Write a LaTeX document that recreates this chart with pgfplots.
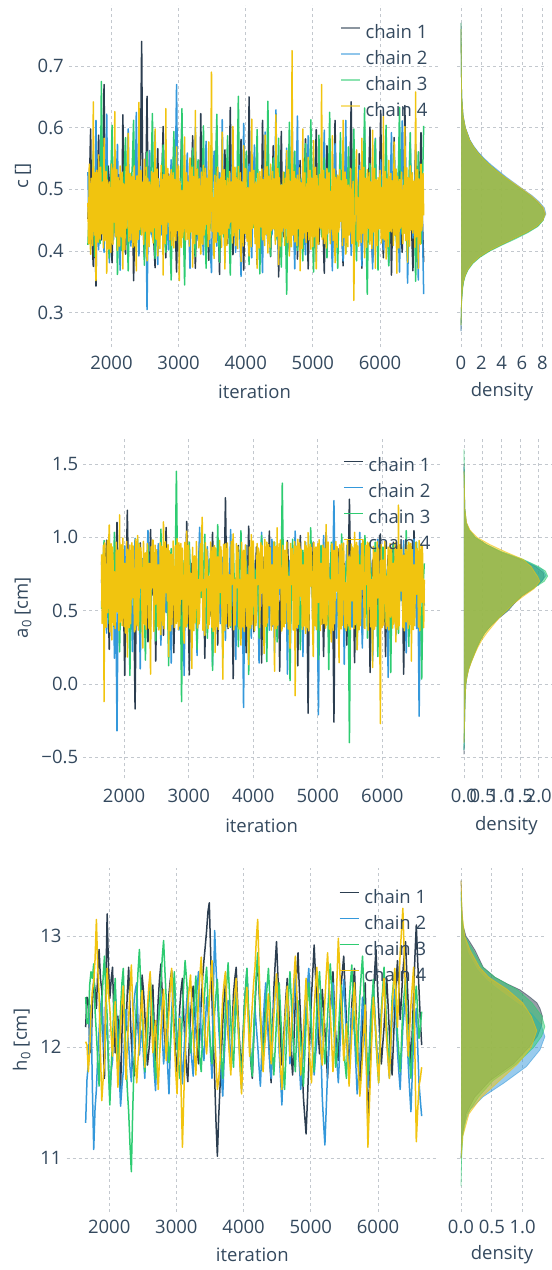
\documentclass[border=0pt]{standalone}
\usepackage{pgfplots}
\pgfplotsset{compat=1.18}
\usepackage{pgfplotstable}
\usepackage{fontspec}
\setmainfont{Open Sans}

\definecolor{chainA}{HTML}{2C3E50}
\definecolor{chainB}{HTML}{3498DB}
\definecolor{chainC}{HTML}{2ECC71}
\definecolor{chainD}{HTML}{F1C40F}
\definecolor{txt}{HTML}{34495E}
\definecolor{gridc}{HTML}{C3C8CE}

\newcommand{\lbl}{\fontsize{18.5bp}{22bp}\selectfont}

% ---------- trace of c, chains 1-3 ----------
\pgfplotstableread{
it c1 c2 c3
1650 0.452 0.528 0.410
1670 0.497 0.412 0.468
1690 0.598 0.431 0.502
1710 0.421 0.512 0.438
1730 0.375 0.486 0.562
1750 0.468 0.402 0.391
1770 0.343 0.612 0.398
1790 0.512 0.458 0.527
1810 0.588 0.402 0.471
1830 0.446 0.531 0.412
1850 0.418 0.545 0.675
1870 0.502 0.447 0.486
1890 0.670 0.398 0.421
1910 0.431 0.489 0.503
1930 0.447 0.622 0.538
1950 0.538 0.426 0.442
1970 0.512 0.381 0.389
1990 0.426 0.541 0.515
2010 0.381 0.497 0.604
2030 0.487 0.418 0.428
2050 0.556 0.446 0.447
2070 0.447 0.509 0.472
2090 0.401 0.573 0.362
2110 0.524 0.436 0.493
2130 0.478 0.369 0.515
2150 0.412 0.487 0.401
2170 0.621 0.520 0.433
2190 0.468 0.402 0.528
2210 0.395 0.439 0.584
2230 0.489 0.523 0.446
2250 0.532 0.598 0.368
2270 0.423 0.452 0.481
2290 0.436 0.408 0.492
2310 0.509 0.492 0.537
2330 0.352 0.481 0.612
2350 0.456 0.417 0.452
2370 0.574 0.625 0.399
2390 0.437 0.478 0.489
2410 0.462 0.392 0.541
2430 0.518 0.537 0.427
2450 0.740 0.512 0.451
2470 0.452 0.441 0.506
2490 0.391 0.453 0.377
2510 0.495 0.519 0.463
2530 0.651 0.305 0.561
2550 0.441 0.472 0.418
2570 0.428 0.563 0.428
2590 0.532 0.438 0.521
2610 0.503 0.421 0.623
2630 0.418 0.506 0.447
2650 0.373 0.594 0.388
2670 0.489 0.453 0.495
2690 0.566 0.378 0.502
2710 0.427 0.487 0.412
2730 0.449 0.518 0.437
2750 0.512 0.426 0.532
2770 0.602 0.462 0.572
2790 0.458 0.509 0.446
2810 0.389 0.581 0.398
2830 0.496 0.441 0.487
2850 0.525 0.402 0.481
2870 0.438 0.496 0.423
2890 0.414 0.548 0.353
2910 0.507 0.462 0.508
2930 0.557 0.433 0.594
2950 0.443 0.513 0.436
2970 0.366 0.670 0.462
2990 0.472 0.448 0.519
3010 0.483 0.391 0.411
3030 0.521 0.487 0.472
3050 0.612 0.507 0.631
3070 0.436 0.425 0.448
3090 0.405 0.438 0.345
3110 0.492 0.512 0.496
3130 0.538 0.559 0.512
3150 0.428 0.441 0.421
3170 0.441 0.372 0.428
3190 0.515 0.503 0.512
3210 0.587 0.486 0.567
3230 0.447 0.422 0.438
3250 0.372 0.601 0.391
3270 0.483 0.458 0.503
3290 0.496 0.417 0.548
3310 0.421 0.498 0.452
3330 0.623 0.535 0.436
3350 0.467 0.436 0.491
3370 0.432 0.394 0.603
3390 0.509 0.517 0.447
3410 0.548 0.578 0.372
3430 0.437 0.463 0.482
3450 0.385 0.452 0.495
3470 0.478 0.406 0.437
3490 0.511 0.365 0.568
3510 0.426 0.512 0.476
3530 0.447 0.562 0.409
3550 0.523 0.447 0.528
3570 0.598 0.408 0.622
3590 0.453 0.493 0.441
3610 0.362 0.527 0.382
3630 0.488 0.432 0.497
3650 0.479 0.613 0.513
3670 0.512 0.469 0.423
3690 0.564 0.381 0.452
3710 0.441 0.508 0.508
3730 0.412 0.495 0.587
3750 0.497 0.428 0.446
3770 0.633 0.442 0.361
3790 0.456 0.523 0.482
3810 0.394 0.574 0.539
3830 0.478 0.446 0.437
3850 0.527 0.398 0.425
3870 0.432 0.482 0.512
3890 0.446 0.528 0.651
3910 0.508 0.437 0.456
3930 0.581 0.359 0.397
3950 0.447 0.487 0.472
3970 0.369 0.607 0.484
3990 0.482 0.452 0.521
4010 0.502 0.423 0.562
4030 0.437 0.496 0.448
4050 0.650 0.541 0.378
4070 0.468 0.447 0.467
4090 0.421 0.389 0.526
4110 0.503 0.498 0.438
4130 0.553 0.572 0.441
4150 0.446 0.421 0.506
4170 0.378 0.447 0.597
4190 0.497 0.487 0.452
4210 0.487 0.521 0.363
4230 0.428 0.443 0.489
4250 0.612 0.365 0.512
4270 0.472 0.512 0.437
4290 0.435 0.593 0.429
4310 0.509 0.438 0.497
4330 0.539 0.412 0.643
4350 0.447 0.492 0.452
4370 0.391 0.536 0.392
4390 0.488 0.426 0.508
4410 0.571 0.452 0.551
4430 0.436 0.502 0.446
4450 0.446 0.629 0.418
4470 0.512 0.448 0.487
4490 0.358 0.387 0.583
4510 0.472 0.497 0.438
4530 0.594 0.508 0.374
4550 0.438 0.453 0.502
4570 0.423 0.431 0.528
4590 0.506 0.512 0.452
4610 0.532 0.567 0.330
4630 0.452 0.438 0.487
4650 0.399 0.402 0.609
4670 0.487 0.496 0.462
4690 0.618 0.545 0.437
4710 0.438 0.452 0.508
4730 0.468 0.371 0.562
4750 0.513 0.498 0.441
4770 0.387 0.619 0.401
4790 0.476 0.446 0.489
4810 0.547 0.448 0.517
4830 0.442 0.508 0.436
4850 0.426 0.523 0.384
4870 0.502 0.437 0.497
4890 0.582 0.394 0.574
4910 0.457 0.488 0.447
4930 0.371 0.587 0.443
4950 0.479 0.446 0.512
4970 0.505 0.436 0.613
4990 0.437 0.503 0.453
5010 0.438 0.552 0.366
5030 0.512 0.448 0.483
5050 0.597 0.383 0.497
5070 0.452 0.493 0.428
5090 0.411 0.511 0.588
5110 0.486 0.437 0.462
5130 0.529 0.443 0.423
5150 0.437 0.512 0.502
5170 0.364 0.596 0.551
5190 0.492 0.452 0.437
5210 0.571 0.407 0.389
5230 0.446 0.487 0.493
5250 0.452 0.532 0.625
5270 0.503 0.441 0.448
5290 0.389 0.368 0.438
5310 0.478 0.497 0.512
5330 0.612 0.574 0.524
5350 0.456 0.446 0.441
5370 0.431 0.426 0.372
5390 0.498 0.502 0.489
5410 0.518 0.553 0.592
5430 0.437 0.432 0.452
5450 0.376 0.384 0.456
5470 0.487 0.487 0.503
5490 0.563 0.612 0.397
5510 0.447 0.443 0.476
5530 0.441 0.451 0.569
5550 0.512 0.508 0.437
5570 0.642 0.393 0.431
5590 0.468 0.472 0.508
5610 0.397 0.567 0.598
5630 0.482 0.437 0.448
5650 0.486 0.418 0.384
5670 0.437 0.503 0.487
5690 0.558 0.539 0.512
5710 0.492 0.452 0.452
5730 0.372 0.376 0.447
5750 0.468 0.487 0.512
5770 0.525 0.598 0.632
5790 0.447 0.438 0.443
5810 0.447 0.437 0.330
5830 0.509 0.496 0.486
5850 0.601 0.514 0.542
5870 0.438 0.447 0.437
5890 0.383 0.371 0.418
5910 0.476 0.508 0.497
5930 0.516 0.583 0.581
5950 0.452 0.446 0.448
5970 0.432 0.426 0.369
5990 0.503 0.498 0.502
6010 0.628 0.548 0.523
6030 0.446 0.437 0.452
6050 0.389 0.402 0.437
6070 0.487 0.503 0.497
6090 0.537 0.563 0.604
6110 0.437 0.452 0.446
6130 0.451 0.381 0.376
6150 0.512 0.487 0.482
6170 0.361 0.592 0.498
6190 0.468 0.438 0.437
6210 0.584 0.439 0.561
6230 0.447 0.503 0.452
6250 0.417 0.527 0.402
6270 0.497 0.446 0.508
6290 0.549 0.366 0.633
6310 0.438 0.487 0.446
6330 0.398 0.611 0.427
6350 0.486 0.452 0.489
6370 0.636 0.447 0.552
6390 0.452 0.497 0.437
6410 0.443 0.348 0.389
6430 0.503 0.446 0.512
6450 0.512 0.574 0.592
6470 0.437 0.487 0.448
6490 0.368 0.421 0.437
6510 0.482 0.503 0.497
6530 0.573 0.542 0.351
6550 0.446 0.437 0.463
6570 0.437 0.353 0.561
6590 0.508 0.492 0.448
6610 0.592 0.488 0.412
6630 0.452 0.446 0.497
6650 0.382 0.330 0.603
}\tracec

% ---------- trace of c, chain 4 ----------
\pgfplotstableread{
it c4
1650 0.478
1660 0.412
1670 0.541
1680 0.437
1690 0.395
1700 0.518
1710 0.487
1720 0.409
1730 0.642
1740 0.448
1750 0.426
1760 0.527
1770 0.352
1780 0.531
1790 0.503
1800 0.414
1810 0.556
1820 0.452
1830 0.419
1840 0.536
1850 0.428
1860 0.508
1870 0.512
1880 0.405
1890 0.583
1900 0.417
1910 0.441
1920 0.529
1930 0.364
1940 0.515
1950 0.472
1960 0.403
1970 0.512
1980 0.438
1990 0.398
2000 0.541
2010 0.442
2020 0.411
2030 0.535
2040 0.447
2050 0.626
2060 0.423
2070 0.452
2080 0.532
2090 0.401
2100 0.519
2110 0.489
2120 0.408
2130 0.538
2140 0.441
2150 0.423
2160 0.528
2170 0.371
2180 0.509
2190 0.506
2200 0.402
2210 0.497
2220 0.537
2230 0.437
2240 0.512
2250 0.591
2260 0.416
2270 0.462
2280 0.526
2290 0.418
2300 0.497
2310 0.521
2320 0.406
2330 0.473
2340 0.538
2350 0.408
2360 0.514
2370 0.368
2380 0.522
2390 0.495
2400 0.419
2410 0.641
2420 0.435
2430 0.456
2440 0.531
2450 0.426
2460 0.507
2470 0.512
2480 0.411
2490 0.549
2500 0.432
2510 0.447
2520 0.536
2530 0.384
2540 0.518
2550 0.498
2560 0.407
2570 0.512
2580 0.441
2590 0.431
2600 0.529
2610 0.455
2620 0.413
2630 0.527
2640 0.438
2650 0.598
2660 0.421
2670 0.419
2680 0.533
2690 0.392
2700 0.517
2710 0.486
2720 0.404
2730 0.478
2740 0.539
2750 0.443
2760 0.516
2770 0.361
2780 0.524
2790 0.507
2800 0.412
2810 0.631
2820 0.428
2830 0.468
2840 0.534
2850 0.447
2860 0.521
2870 0.418
2880 0.511
2890 0.532
2900 0.409
2910 0.481
2920 0.527
2930 0.405
2940 0.516
2950 0.512
2960 0.417
2970 0.569
2980 0.433
2990 0.442
3000 0.538
3010 0.352
3020 0.513
3030 0.486
3040 0.406
3050 0.498
3060 0.422
3070 0.437
3080 0.531
3090 0.585
3100 0.418
3110 0.468
3120 0.527
3130 0.419
3140 0.512
3150 0.503
3160 0.408
3170 0.551
3180 0.431
3190 0.446
3200 0.536
3210 0.374
3220 0.521
3230 0.492
3240 0.412
3250 0.628
3260 0.437
3270 0.427
3280 0.533
3290 0.462
3300 0.405
3310 0.517
3320 0.442
3330 0.395
3340 0.528
3350 0.473
3360 0.411
3370 0.539
3380 0.426
3390 0.439
3400 0.534
3410 0.443
3420 0.518
3430 0.508
3440 0.407
3450 0.577
3460 0.419
3470 0.452
3480 0.529
3490 0.690
3500 0.432
3510 0.487
3520 0.403
3530 0.388
3540 0.523
3550 0.472
3560 0.414
3570 0.502
3580 0.536
3590 0.431
3600 0.517
3610 0.426
3620 0.509
3630 0.519
3640 0.406
3650 0.593
3660 0.428
3670 0.448
3680 0.532
3690 0.371
3700 0.514
3710 0.482
3720 0.409
3730 0.518
3740 0.441
3750 0.437
3760 0.529
3770 0.447
3780 0.507
3790 0.512
3800 0.413
3810 0.602
3820 0.425
3830 0.456
3840 0.536
3850 0.409
3860 0.519
3870 0.497
3880 0.404
3890 0.537
3900 0.436
3910 0.442
3920 0.527
3930 0.383
3940 0.512
3950 0.476
3960 0.408
3970 0.571
3980 0.431
3990 0.428
4000 0.534
4010 0.452
4020 0.416
4030 0.503
4040 0.423
4050 0.392
4060 0.528
4070 0.467
4080 0.407
4090 0.614
4100 0.437
4110 0.451
4120 0.531
4130 0.461
4140 0.412
4150 0.512
4160 0.438
4170 0.372
4180 0.526
4190 0.482
4200 0.405
4210 0.529
4220 0.441
4230 0.439
4240 0.533
4250 0.418
4260 0.516
4270 0.496
4280 0.409
4290 0.588
4300 0.427
4310 0.451
4320 0.537
4330 0.397
4340 0.521
4350 0.478
4360 0.406
4370 0.541
4380 0.433
4390 0.437
4400 0.529
4410 0.436
4420 0.517
4430 0.506
4440 0.411
4450 0.621
4460 0.424
4470 0.462
4480 0.534
4490 0.378
4500 0.519
4510 0.492
4520 0.408
4530 0.507
4540 0.432
4550 0.446
4560 0.528
4570 0.451
4580 0.409
4590 0.518
4600 0.437
4610 0.563
4620 0.414
4630 0.431
4640 0.532
4650 0.392
4660 0.513
4670 0.486
4680 0.407
4690 0.725
4700 0.426
4710 0.448
4720 0.529
4730 0.415
4740 0.518
4750 0.503
4760 0.409
4770 0.523
4780 0.436
4790 0.452
4800 0.535
4810 0.368
4820 0.511
4830 0.487
4840 0.404
4850 0.598
4860 0.421
4870 0.442
4880 0.527
4890 0.437
4900 0.414
4910 0.509
4920 0.432
4930 0.552
4940 0.418
4950 0.438
4960 0.531
4970 0.403
4980 0.518
4990 0.486
5000 0.407
5010 0.579
5020 0.423
5030 0.447
5040 0.536
5050 0.371
5060 0.522
5070 0.492
5080 0.411
5090 0.489
5100 0.524
5110 0.437
5120 0.513
5130 0.670
5140 0.419
5150 0.452
5160 0.531
5170 0.412
5180 0.517
5190 0.506
5200 0.405
5210 0.534
5220 0.428
5230 0.443
5240 0.527
5250 0.446
5260 0.412
5270 0.497
5280 0.436
5290 0.587
5300 0.417
5310 0.452
5320 0.533
5330 0.381
5340 0.519
5350 0.473
5360 0.406
5370 0.523
5380 0.431
5390 0.438
5400 0.532
5410 0.448
5420 0.514
5430 0.508
5440 0.409
5450 0.612
5460 0.422
5470 0.456
5480 0.528
5490 0.395
5500 0.516
5510 0.482
5520 0.407
5530 0.507
5540 0.426
5550 0.437
5560 0.534
5570 0.446
5580 0.412
5590 0.497
5600 0.513
5610 0.320
5620 0.438
5630 0.452
5640 0.529
5650 0.564
5660 0.416
5670 0.487
5680 0.408
5690 0.423
5700 0.531
5710 0.508
5720 0.414
5730 0.583
5740 0.429
5750 0.446
5760 0.536
5770 0.389
5780 0.518
5790 0.489
5800 0.406
5810 0.532
5820 0.441
5830 0.437
5840 0.527
5850 0.411
5860 0.512
5870 0.498
5880 0.404
5890 0.596
5900 0.431
5910 0.452
5920 0.534
5930 0.372
5940 0.516
5950 0.486
5960 0.409
5970 0.519
5980 0.436
5990 0.437
6000 0.531
6010 0.452
6020 0.413
6030 0.503
6040 0.421
6050 0.618
6060 0.418
6070 0.448
6080 0.529
6090 0.387
6100 0.517
6110 0.496
6120 0.407
6130 0.547
6140 0.432
6150 0.437
6160 0.526
6170 0.431
6180 0.514
6190 0.512
6200 0.409
6210 0.577
6220 0.426
6230 0.446
6240 0.533
6250 0.364
6260 0.521
6270 0.489
6280 0.405
6290 0.516
6300 0.437
6310 0.442
6320 0.528
6330 0.441
6340 0.412
6350 0.506
6360 0.429
6370 0.602
6380 0.417
6390 0.446
6400 0.535
6410 0.382
6420 0.519
6430 0.487
6440 0.408
6450 0.538
6460 0.434
6470 0.437
6480 0.527
6490 0.429
6500 0.513
6510 0.498
6520 0.406
6530 0.658
6540 0.423
6550 0.452
6560 0.532
6570 0.372
6580 0.517
6590 0.486
6600 0.411
6610 0.541
6620 0.433
6630 0.447
6640 0.526
6650 0.458
}\tracecD

% ---------- trace of a0, chains 1-3 ----------
\pgfplotstableread{
it c1 c2 c3
1650 0.712 0.835 0.512
1670 0.583 0.712 0.798
1690 0.458 0.602 0.978
1710 0.812 0.487 0.623
1730 0.981 0.347 0.703
1750 0.634 0.756 0.534
1770 0.236 1.021 0.412
1790 0.712 0.623 0.745
1810 0.845 0.512 0.897
1830 0.523 0.834 0.612
1850 0.621 0.176 1.034
1870 0.778 0.634 0.687
1890 1.102 -0.320 0.568
1910 0.656 0.712 0.823
1930 0.374 0.887 0.219
1950 0.712 0.534 0.678
1970 0.796 0.645 0.921
1990 0.578 0.789 0.589
2010 0.058 0.942 0.483
2030 0.689 0.578 0.756
2050 1.185 0.403 0.765
2070 0.612 0.723 0.634
2090 0.547 0.768 0.058
2110 0.745 0.612 0.712
2130 0.893 0.221 0.856
2150 0.567 0.756 0.534
2170 -0.170 0.994 0.632
2190 0.678 0.623 0.789
2210 0.734 0.538 0.989
2230 0.823 0.712 0.612
2250 0.962 0.103 0.347
2270 0.612 0.745 0.734
2290 0.418 0.856 0.812
2310 0.734 0.578 0.645
2330 0.825 0.671 0.163
2350 0.589 0.812 0.723
2370 0.287 1.047 0.945
2390 0.712 0.634 0.612
2410 1.053 0.392 0.521
2430 0.656 0.723 0.778
2450 0.603 0.814 0.878
2470 0.778 0.567 0.645
2490 0.156 0.587 0.294
2510 0.689 0.745 0.712
2530 0.918 0.957 0.763
2550 0.567 0.634 0.589
2570 0.682 0.264 1.056
2590 0.745 0.712 0.678
2610 0.332 0.776 0.432
2630 0.634 0.589 0.734
2650 1.067 0.486 0.687
2670 0.712 0.756 0.612
2690 0.548 0.912 0.125
2710 0.656 0.634 0.789
2730 0.867 0.142 0.923
2750 0.723 0.712 0.645
2770 0.213 0.698 0.574
2790 0.634 0.578 0.712
2810 0.776 1.025 1.450
2830 0.712 0.689 0.656
2850 0.947 0.367 0.651
2870 0.589 0.745 0.778
2890 0.398 0.823 -0.120
2910 0.756 0.634 0.689
2930 0.685 0.058 0.842
2950 0.634 0.712 0.612
2970 1.108 0.734 0.389
2990 0.678 0.589 0.734
3010 0.062 0.923 0.967
3030 0.712 0.678 0.623
3050 0.823 0.453 0.521
3070 0.645 0.734 0.756
3090 0.587 0.812 0.782
3110 0.734 0.612 0.645
3130 0.302 0.194 0.236
3150 0.689 0.745 0.712
3170 0.956 1.068 0.897
3190 0.612 0.656 0.589
3210 0.712 0.587 0.612
3230 0.756 0.712 0.734
3250 0.175 0.341 1.021
3270 0.678 0.689 0.645
3290 0.874 0.936 0.312
3310 0.623 0.612 0.756
3330 0.463 0.683 0.854
3350 0.734 0.745 0.678
3370 1.034 0.127 0.093
3390 0.656 0.678 0.712
3410 0.612 0.798 0.736
3430 0.712 0.634 0.634
3450 0.265 0.976 1.087
3470 0.689 0.712 0.689
3490 0.902 0.412 0.547
3510 0.623 0.756 0.745
3530 0.734 0.865 0.178
3550 0.712 0.623 0.656
3570 1.270 0.298 0.912
3590 0.645 0.712 0.712
3610 0.378 0.721 0.652
3630 0.756 0.656 0.689
3650 0.803 1.053 0.387
3670 0.634 0.712 0.734
3690 0.036 0.532 0.968
3710 0.712 0.689 0.623
3730 0.654 0.167 0.723
3750 0.678 0.745 0.712
3770 0.945 0.893 0.254
3790 0.623 0.634 0.689
3810 0.487 0.654 1.045
3830 0.745 0.712 0.656
3850 0.823 -0.160 0.598
3870 0.689 0.678 0.734
3890 0.213 0.946 0.843
3910 0.712 0.623 0.689
3930 1.076 0.578 0.065
3950 0.656 0.734 0.712
3970 0.612 0.312 0.921
3990 0.734 0.689 0.645
4010 0.356 0.842 0.476
4030 0.689 0.656 0.756
4050 0.935 0.723 0.785
4070 0.645 0.712 0.689
4090 0.754 0.143 0.312
4110 0.712 0.734 0.712
4130 0.143 1.034 1.012
4150 0.678 0.645 0.656
4170 0.867 0.512 0.634
4190 0.623 0.712 0.734
4210 0.523 0.876 0.152
4230 0.745 0.656 0.689
4250 1.043 0.367 0.878
4270 0.689 0.734 0.623
4290 0.392 0.987 0.512
4310 0.712 0.689 0.745
4330 0.789 0.213 0.967
4350 0.656 0.712 0.678
4370 0.634 0.756 0.287
4390 0.734 0.623 0.712
4410 0.087 0.612 0.723
4430 0.678 0.745 0.656
4450 0.912 0.893 1.370
4470 0.712 0.678 0.689
4490 0.556 0.421 0.418
4510 0.645 0.712 0.734
4530 0.978 0.067 0.842
4550 0.734 0.689 0.656
4570 0.276 0.845 0.023
4590 0.689 0.656 0.712
4610 0.823 0.612 0.987
4630 0.656 0.734 0.645
4650 0.687 1.043 0.567
4670 0.712 0.645 0.734
4690 0.123 0.378 0.789
4710 0.734 0.712 0.678
4730 1.012 0.823 0.234
4750 0.645 0.678 0.712
4770 0.543 0.187 0.912
4790 0.712 0.734 0.656
4810 0.876 0.967 0.656
4830 0.678 0.645 0.734
4850 -0.200 0.534 0.376
4870 0.712 0.712 0.689
4890 0.745 0.712 1.065
4910 0.656 0.678 0.712
4930 0.967 0.278 0.534
4950 0.734 0.745 0.656
4970 0.412 0.898 0.812
4990 0.689 0.656 0.734
5010 0.834 -0.210 0.167
5030 0.712 0.712 0.678
5050 0.623 0.756 0.945
5070 0.678 0.689 0.712
5090 0.187 1.012 0.598
5110 0.734 0.645 0.734
5130 1.034 0.456 0.823
5150 0.656 0.712 0.656
5170 0.578 0.823 0.098
5190 0.712 0.678 0.712
5210 0.867 0.634 0.967
5230 0.689 0.734 0.689
5250 -0.260 1.250 0.534
5270 0.723 0.656 0.745
5290 0.734 0.312 0.787
5310 0.645 0.712 0.678
5330 0.923 0.867 0.356
5350 0.712 0.689 0.712
5370 0.412 0.578 1.023
5390 0.689 0.734 0.656
5410 0.823 0.134 0.612
5430 0.656 0.712 0.734
5450 0.265 0.945 0.845
5470 0.734 0.656 0.689
5490 1.260 0.712 -0.400
5510 0.678 0.689 0.712
5530 0.612 0.387 0.934
5550 0.712 0.745 0.656
5570 0.145 0.867 0.578
5590 0.689 0.678 0.734
5610 0.889 0.523 0.234
5630 0.656 0.712 0.689
5650 0.678 1.034 0.878
5670 0.734 0.645 0.712
5690 0.334 0.245 0.645
5710 0.712 0.734 0.678
5730 0.956 0.812 1.012
5750 0.645 0.689 0.734
5770 0.567 0.634 0.312
5790 0.734 0.712 0.656
5810 0.078 0.923 0.823
5830 0.689 0.656 0.712
5850 0.845 0.156 0.556
5870 0.712 0.734 0.689
5890 0.712 0.778 0.967
5910 0.656 0.689 0.734
5930 0.298 0.987 0.187
5950 0.734 0.712 0.678
5970 1.023 0.423 0.734
5990 0.678 0.656 0.712
6010 0.623 0.856 0.934
6030 0.712 0.734 0.656
6050 0.187 0.612 0.423
6070 0.689 0.678 0.734
6090 0.878 0.045 0.812
6110 0.656 0.712 0.689
6130 0.534 0.923 0.078
6150 0.734 0.689 0.712
6170 0.967 0.712 0.956
6190 0.678 0.656 0.678
6210 0.345 0.334 0.634
6230 0.712 0.734 0.734
6250 0.812 0.867 0.345
6270 0.689 0.712 0.656
6290 0.656 0.567 0.878
6310 0.734 0.689 0.712
6330 0.067 0.978 0.534
6350 0.656 0.656 0.689
6370 0.934 0.212 1.045
6390 0.712 0.734 0.678
6410 0.712 0.845 0.256
6430 0.689 0.678 0.734
6450 0.423 0.623 0.812
6470 0.734 0.712 0.656
6490 1.045 0.987 0.623
6510 0.656 0.689 0.712
6530 0.578 0.378 0.967
6550 0.712 0.734 0.689
6570 0.234 -0.220 0.412
6590 0.689 0.656 0.734
6610 0.867 0.812 0.034
6630 0.712 0.712 0.656
6650 0.645 0.534 0.823
}\tracea

% ---------- trace of a0, chain 4 ----------
\pgfplotstableread{
it c4
1650 0.884
1660 0.412
1670 0.612
1680 0.945
1690 -0.120
1700 0.962
1710 0.734
1720 0.386
1730 0.652
1740 0.978
1750 0.487
1760 0.921
1770 1.084
1780 0.354
1790 0.678
1800 0.956
1810 0.301
1820 0.934
1830 0.823
1840 0.402
1850 0.765
1860 0.378
1870 0.556
1880 0.967
1890 0.492
1900 0.912
1910 0.789
1920 0.365
1930 1.153
1940 0.421
1950 0.623
1960 0.948
1970 0.398
1980 0.995
1990 0.734
2000 0.392
2010 0.823
2020 0.347
2030 0.567
2040 0.972
2050 0.184
2060 0.918
2070 0.712
2080 0.384
2090 0.948
2100 0.412
2110 0.645
2120 0.963
2130 0.587
2140 0.941
2150 0.778
2160 0.356
2170 0.372
2180 0.987
2190 0.689
2200 0.398
2210 1.012
2220 0.367
2230 0.556
2240 0.954
2250 0.653
2260 0.928
2270 0.789
2280 0.389
2290 0.245
2300 0.973
2310 0.712
2320 0.404
2330 0.894
2340 0.372
2350 0.612
2360 0.958
2370 0.701
2380 0.381
2390 0.823
2400 0.415
2410 0.067
2420 0.936
2430 0.656
2440 0.982
2450 0.978
2460 0.359
2470 0.612
2480 0.947
2490 0.544
2500 0.915
2510 0.734
2520 0.393
2530 0.812
2540 0.368
2550 0.589
2560 0.964
2570 0.336
2580 0.938
2590 0.745
2600 0.401
2610 1.105
2620 0.377
2630 0.678
2640 0.969
2650 0.623
2660 0.924
2670 0.567
2680 0.951
2690 0.187
2700 0.907
2710 0.712
2720 0.362
2730 0.886
2740 0.408
2750 0.634
2760 0.975
2770 0.732
2780 0.385
2790 0.589
2800 0.943
2810 0.412
2820 0.991
2830 0.778
2840 0.371
2850 0.963
2860 0.396
2870 0.645
2880 0.958
2890 0.578
2900 0.926
2910 0.712
2920 0.354
2930 0.278
2940 0.966
2950 0.689
2960 0.389
2970 1.042
2980 0.412
2990 0.623
3000 0.947
3010 0.685
3020 0.375
3030 0.756
3040 0.398
3050 0.106
3060 0.932
3070 0.689
3080 0.363
3090 0.874
3100 0.417
3110 0.578
3120 0.971
3130 0.752
3140 0.382
3150 0.712
3160 0.409
3170 0.465
3180 0.955
3190 0.634
3200 0.984
3210 1.137
3220 0.367
3230 0.712
3240 0.394
3250 0.332
3260 0.962
3270 0.656
3280 0.918
3290 0.798
3300 0.378
3310 0.734
3320 0.405
3330 0.542
3340 0.968
3350 0.689
3360 0.386
3370 0.931
3380 0.358
3390 0.612
3400 0.944
3410 0.215
3420 0.927
3430 0.745
3440 0.392
3450 0.867
3460 0.371
3470 0.656
3480 0.978
3490 0.624
3500 0.935
3510 0.712
3520 0.403
3530 0.032
3540 0.952
3550 0.689
3560 0.366
3570 0.956
3580 0.411
3590 0.634
3600 0.961
3610 0.712
3620 0.384
3630 0.745
3640 0.397
3650 0.398
3660 0.973
3670 0.678
3680 0.921
3690 1.023
3700 0.369
3710 0.712
3720 0.402
3730 0.573
3740 0.957
3750 0.656
3760 0.938
3770 0.843
3780 0.376
3790 0.712
3800 0.414
3810 0.265
3820 0.966
3830 0.689
3840 0.388
3850 0.912
3860 0.359
3870 0.634
3880 0.949
3890 0.687
3900 0.395
3910 0.745
3920 0.372
3930 0.132
3940 0.934
3950 0.689
3960 0.381
3970 1.018
3980 0.407
3990 0.656
4000 0.975
4010 0.745
4020 0.364
4030 0.712
4040 0.399
4050 0.452
4060 0.958
4070 0.678
4080 0.927
4090 0.893
4100 0.385
4110 0.623
4120 0.963
4130 0.621
4140 0.941
4150 0.734
4160 0.373
4170 0.208
4180 0.986
4190 0.689
4200 0.392
4210 0.967
4220 0.416
4230 0.656
4240 0.952
4250 0.534
4260 0.929
4270 0.712
4280 0.367
4290 0.812
4300 0.404
4310 0.645
4320 0.969
4330 0.087
4340 0.937
4350 0.734
4360 0.378
4370 1.065
4380 0.401
4390 0.678
4400 0.955
4410 0.653
4420 0.982
4430 0.712
4440 0.361
4450 0.387
4460 0.946
4470 0.689
4480 0.389
4490 0.912
4500 0.413
4510 0.645
4520 0.967
4530 0.712
4540 0.376
4550 0.734
4560 0.398
4570 0.243
4580 0.958
4590 0.678
4600 0.924
4610 0.876
4620 0.368
4630 0.623
4640 0.971
4650 -0.080
4660 0.939
4670 0.712
4680 0.383
4690 0.987
4700 0.407
4710 0.656
4720 0.962
4730 0.598
4740 0.918
4750 0.745
4760 0.372
4770 0.812
4780 0.395
4790 0.678
4800 0.974
4810 0.345
4820 0.942
4830 0.712
4840 0.386
4850 1.032
4860 0.362
4870 0.656
4880 0.953
4890 0.667
4900 0.931
4910 0.734
4920 0.379
4930 0.187
4940 0.965
4950 0.689
4960 0.397
4970 0.934
4980 0.371
4990 0.645
5000 0.956
5010 0.556
5020 0.983
5030 0.712
5040 0.364
5050 0.823
5060 0.408
5070 0.678
5080 0.947
5090 0.412
5100 0.926
5110 0.734
5120 0.381
5130 1.087
5140 0.403
5150 0.656
5160 0.968
5170 0.723
5180 0.374
5190 0.712
5200 0.392
5210 0.287
5220 0.957
5230 0.689
5240 0.366
5250 0.912
5260 0.412
5270 0.645
5280 0.972
5290 0.634
5300 0.936
5310 0.734
5320 0.387
5330 0.145
5340 0.949
5350 0.712
5360 0.375
5370 0.956
5380 0.401
5390 0.656
5400 0.961
5410 0.712
5420 0.384
5430 0.689
5440 0.363
5450 0.398
5460 0.977
5470 0.734
5480 0.396
5490 0.867
5500 0.371
5510 0.678
5520 0.954
5530 0.567
5540 0.929
5550 0.712
5560 0.378
5570 1.034
5580 0.405
5590 0.656
5600 0.966
5610 0.234
5620 0.941
5630 0.745
5640 0.369
5650 0.812
5660 0.398
5670 0.689
5680 0.958
5690 0.645
5700 0.984
5710 0.712
5720 0.382
5730 0.378
5740 0.945
5750 0.678
5760 0.923
5770 0.967
5780 0.367
5790 0.656
5800 0.962
5810 0.723
5820 0.389
5830 0.712
5840 0.411
5850 0.112
5860 0.938
5870 0.734
5880 0.373
5890 0.898
5900 0.396
5910 0.645
5920 0.969
5930 0.587
5940 0.927
5950 0.712
5960 0.364
5970 -0.270
5980 0.952
5990 0.689
6000 0.386
6010 0.845
6020 0.402
6030 0.656
6040 0.973
6050 0.712
6060 0.377
6070 0.734
6080 0.394
6090 0.934
6100 0.368
6110 0.678
6120 0.957
6130 0.456
6140 0.932
6150 0.712
6160 0.381
6170 0.823
6180 0.409
6190 0.656
6200 0.965
6210 0.287
6220 0.943
6230 0.734
6240 0.372
6250 1.220
6260 0.397
6270 0.689
6280 0.951
6290 0.634
6300 0.928
6310 0.712
6320 0.385
6330 0.878
6340 0.363
6350 0.656
6360 0.974
6370 0.423
6380 0.946
6390 0.734
6400 0.379
6410 0.967
6420 0.404
6430 0.689
6440 0.958
6450 0.156
6460 0.935
6470 0.712
6480 0.371
6490 0.812
6500 0.399
6510 0.656
6520 0.967
6530 0.612
6540 0.921
6550 0.734
6560 0.388
6570 0.978
6580 0.362
6590 0.689
6600 0.955
6610 0.556
6620 0.938
6630 0.712
6640 0.384
6650 0.712
}\traceaD

% ---------- trace of h0 ----------
\pgfplotstableread{
it c1 c2 c3 c4
1650 12.18 11.32 12.45 12.05
1670 12.45 11.71 12.22 12.02
1690 12.42 11.85 12.21 11.78
1710 12.05 12.21 12.56 11.96
1730 11.95 12.38 12.68 12.32
1750 12.38 11.64 12.62 12.51
1770 12.61 11.08 12.75 12.58
1790 12.52 11.45 12.33 12.79
1810 12.35 11.62 12.12 13.15
1830 12.68 11.92 11.88 12.71
1850 12.88 12.15 11.65 12.47
1870 12.62 12.35 12.08 11.96
1890 12.51 12.46 12.38 11.52
1910 12.08 12.12 12.63 11.71
1930 11.72 11.94 12.82 11.86
1950 12.56 12.12 12.49 12.36
1970 13.20 12.21 12.28 12.71
1990 12.71 11.86 11.79 12.48
2010 12.44 11.55 11.48 12.35
2030 12.61 11.78 11.82 12.11
2050 12.72 11.88 12.05 11.92
2070 12.28 12.26 12.41 12.22
2090 11.95 12.52 12.62 12.41
2110 12.18 12.29 12.15 11.98
2130 12.28 12.12 11.76 11.64
2150 11.92 11.76 12.12 11.95
2170 11.62 11.47 12.35 12.18
2190 12.11 11.65 12.58 12.41
2210 12.48 11.78 12.71 12.55
2230 12.29 12.12 12.28 12.08
2250 12.15 12.34 11.92 11.71
2270 12.49 12.15 11.62 12.02
2290 12.72 12.02 11.42 12.26
2310 12.35 11.82 11.12 12.51
2330 12.05 11.69 10.88 12.74
2350 11.85 12.08 11.42 12.38
2370 11.74 12.41 11.85 12.12
2390 12.08 12.52 12.18 11.86
2410 12.38 12.58 12.44 11.68
2430 12.18 12.21 12.69 11.89
2450 12.02 11.93 12.88 12.05
2470 12.35 12.08 12.55 12.31
2490 12.65 12.15 12.26 12.51
2510 12.51 11.92 12.02 12.12
2530 12.31 11.72 11.78 11.82
2550 12.02 12.05 11.95 12.11
2570 11.84 12.28 12.05 12.36
2590 11.96 12.48 12.38 12.55
2610 12.12 12.65 12.62 12.68
2630 12.38 12.32 12.45 12.28
2650 12.56 12.04 12.32 11.95
2670 12.19 11.78 11.98 12.12
2690 11.88 11.61 11.71 12.24
2710 12.18 11.95 11.92 11.89
2730 12.43 12.22 12.15 11.62
2750 12.62 12.38 12.39 11.92
2770 12.75 12.48 12.58 12.15
2790 12.48 12.11 12.81 12.38
2810 12.22 11.85 12.96 12.52
2830 12.05 12.01 12.68 12.18
2850 11.95 12.12 12.42 11.88
2870 12.25 11.82 12.12 12.12
2890 12.48 11.58 11.86 12.32
2910 12.61 11.98 12.02 12.55
2930 12.69 12.32 12.21 12.71
2950 12.38 12.52 12.48 12.35
2970 12.15 12.61 12.68 12.05
2990 11.92 12.25 12.32 11.78
3010 11.78 11.98 12.04 11.58
3030 12.08 12.15 11.85 11.95
3050 12.35 12.28 11.72 12.26
3070 12.52 11.92 12.02 11.62
3090 12.62 11.67 12.31 11.10
3110 12.28 11.92 12.58 11.55
3130 12.02 12.15 12.78 11.92
3150 11.82 12.38 12.62 12.18
3170 11.69 12.54 12.45 12.38
3190 12.02 12.28 12.18 12.52
3210 12.28 12.05 11.95 12.65
3230 12.45 11.88 12.12 12.38
3250 12.55 11.74 12.22 12.12
3270 12.32 12.08 12.45 11.92
3290 12.18 12.35 12.64 11.75
3310 11.98 12.55 12.32 12.12
3330 11.85 12.68 12.05 12.46
3350 12.15 12.38 11.88 12.65
3370 12.41 12.12 11.78 12.81
3390 12.62 11.98 12.12 12.52
3410 12.78 11.88 12.38 12.28
3430 12.91 12.18 12.58 12.08
3450 13.05 12.45 12.72 11.94
3470 13.22 12.32 12.42 12.18
3490 13.30 12.18 12.18 12.42
3510 12.85 11.92 11.98 12.62
3530 12.42 11.72 11.85 12.78
3550 12.05 12.48 12.08 12.45
3570 11.72 13.05 12.32 12.15
3590 11.32 12.72 12.48 11.85
3610 11.02 12.45 12.61 11.62
3630 11.38 12.18 12.32 11.71
3650 11.65 11.98 12.07 11.88
3670 11.95 11.72 11.88 12.18
3690 12.22 11.56 11.72 12.45
3710 12.42 11.88 12.05 12.58
3730 12.58 12.15 12.35 12.68
3750 12.32 12.31 12.58 12.38
3770 12.12 12.42 12.76 12.12
3790 11.98 12.08 12.48 11.92
3810 11.85 11.84 12.22 11.75
3830 12.18 12.05 11.98 12.05
3850 12.48 12.21 11.82 12.33
3870 12.62 12.42 12.15 12.48
3890 12.72 12.58 12.45 12.62
3910 12.42 12.28 12.28 12.32
3930 12.15 12.05 12.12 12.05
3950 11.95 11.82 11.88 11.78
3970 11.78 11.62 11.68 11.58
3990 12.08 11.98 12.02 11.92
4010 12.35 12.28 12.34 12.18
4030 12.52 12.52 12.55 12.38
4050 12.65 12.71 12.71 12.54
4070 12.32 12.38 12.38 12.22
4090 12.02 12.12 12.08 11.92
4110 11.85 11.92 11.88 12.18
4130 11.72 11.78 11.74 12.38
4150 12.08 12.08 12.12 12.58
4170 12.38 12.35 12.42 12.72
4190 12.62 12.18 12.65 12.98
4210 12.81 12.02 12.85 13.15
4230 12.52 11.82 12.55 12.72
4250 12.25 11.65 12.28 12.35
4270 12.05 11.95 12.02 12.02
4290 11.92 12.21 11.85 11.78
4310 12.22 12.42 12.12 11.98
4330 12.45 12.58 12.36 12.12
4350 12.28 12.31 12.55 12.32
4370 12.12 12.06 12.71 12.48
4390 11.88 11.85 12.45 12.15
4410 11.68 11.72 12.18 11.85
4430 12.12 12.05 11.95 12.05
4450 12.52 12.38 11.75 12.28
4470 12.75 12.52 11.98 12.48
4490 12.95 12.64 12.24 12.66
4510 12.65 12.28 12.42 12.35
4530 12.38 11.95 12.58 12.05
4550 12.08 11.72 12.32 11.82
4570 11.84 11.48 12.05 11.62
4590 12.02 11.82 11.82 11.92
4610 12.24 12.12 11.62 12.18
4630 12.45 12.35 11.92 12.38
4650 12.62 12.52 12.25 12.55
4670 12.35 12.18 12.48 12.22
4690 12.08 11.85 12.68 11.92
4710 11.92 12.05 12.42 12.15
4730 11.75 12.25 12.12 12.38
4750 12.08 12.45 11.95 12.62
4770 12.42 12.65 11.78 12.82
4790 12.65 12.38 12.12 12.52
4810 12.85 12.08 12.42 12.24
4830 12.52 11.85 12.22 11.98
4850 12.22 11.62 12.05 11.75
4870 11.88 11.78 11.85 11.95
4890 11.55 11.94 11.65 12.15
4910 11.38 12.15 11.92 12.38
4930 11.22 12.38 12.22 12.62
4950 11.52 12.55 12.41 12.32
4970 11.85 12.71 12.58 12.05
4990 12.15 12.45 12.35 11.85
5010 12.45 12.18 12.14 11.68
5030 12.68 11.95 11.95 12.02
5050 12.92 11.75 11.78 12.35
5070 12.65 11.92 12.05 12.55
5090 12.38 12.05 12.35 12.72
5110 12.15 12.28 12.52 12.45
5130 11.94 12.48 12.68 12.16
5150 12.22 12.02 12.45 11.98
5170 12.52 11.56 12.22 11.84
5190 12.35 11.32 12.02 12.12
5210 12.15 11.12 11.85 12.42
5230 11.92 11.45 12.05 12.65
5250 11.72 11.78 12.28 12.85
5270 12.02 12.05 12.52 12.58
5290 12.35 12.32 12.75 12.32
5310 12.52 12.45 12.55 12.05
5330 12.68 12.58 12.35 11.78
5350 12.38 12.32 12.08 12.02
5370 12.12 12.05 11.82 12.25
5390 11.98 11.85 11.95 12.62
5410 11.88 11.68 12.12 12.98
5430 12.22 11.95 12.35 12.72
5450 12.55 12.22 12.56 12.42
5470 12.68 12.42 12.28 12.15
5490 12.82 12.61 12.02 11.88
5510 12.52 12.35 11.85 12.05
5530 12.25 12.08 11.72 12.21
5550 12.02 11.92 12.05 11.92
5570 11.78 11.75 12.38 11.65
5590 12.08 12.05 12.58 11.88
5610 12.38 12.35 12.74 12.12
5630 12.55 12.25 12.45 12.35
5650 12.71 12.12 12.18 12.58
5670 12.38 11.85 12.02 12.28
5690 12.05 11.58 11.85 12.02
5710 11.82 11.75 12.15 11.78
5730 11.62 11.92 12.45 11.56
5750 11.92 12.18 12.65 11.72
5770 12.22 12.45 12.82 11.92
5790 12.42 12.22 12.52 12.15
5810 12.58 12.02 12.24 12.38
5830 11.92 11.82 11.98 11.72
5850 11.28 11.64 11.75 11.10
5870 11.62 11.95 11.95 11.45
5890 11.92 12.28 12.15 11.78
5910 12.18 12.42 12.38 12.12
5930 12.45 12.55 12.61 12.45
5950 12.68 12.35 12.32 12.28
5970 12.88 12.12 12.05 12.12
5990 12.58 11.95 11.85 11.88
6010 12.32 11.78 11.68 11.68
6030 12.08 12.05 12.02 11.95
6050 11.85 12.32 12.32 12.25
6070 12.02 12.48 12.52 12.45
6090 12.18 12.65 12.72 12.62
6110 12.42 12.35 12.45 12.32
6130 12.62 12.08 12.18 12.05
6150 12.38 11.88 11.98 11.88
6170 12.12 11.72 11.82 11.72
6190 11.92 11.98 12.12 12.02
6210 11.75 12.25 12.45 12.35
6230 12.05 12.38 12.58 12.55
6250 12.35 12.52 12.68 12.71
6270 12.58 12.22 12.38 12.45
6290 12.78 11.96 12.12 12.18
6310 12.52 11.78 11.95 12.52
6330 12.25 11.62 11.78 12.85
6350 12.45 11.92 12.05 13.05
6370 12.68 12.18 12.35 13.25
6390 12.82 12.32 12.48 12.85
6410 12.95 12.45 12.62 12.48
6430 12.65 12.15 12.32 12.18
6450 12.38 11.85 12.05 11.92
6470 12.08 11.62 11.88 12.15
6490 11.82 11.42 11.72 12.38
6510 12.15 11.75 12.02 12.55
6530 12.48 12.08 12.28 12.72
6550 12.82 12.22 12.42 11.92
6570 13.10 12.35 12.55 11.15
6590 12.78 12.02 12.32 11.42
6610 12.52 11.68 12.08 11.65
6630 12.25 11.52 12.18 11.72
6650 12.02 11.38 12.32 11.82
}\traceh

\pgfplotsset{
  panel/.style={
    scale only axis,
    anchor=north west,
    axis line style={draw=none},
    major tick length=0pt,
    grid=major,
    major grid style={gridc, dash pattern=on 3bp off 3bp, line width=0.9bp},
    tick label style={font=\lbl, text=txt},
    /pgf/number format/assume math mode=true,
    yticklabel style={anchor=east, inner sep=0pt, xshift=-5bp},
    xticklabel style={anchor=center, inner sep=0pt},
    every axis x label/.style={at={(rel axis cs:0.5,0)}, anchor=center, font=\lbl, text=txt},
    every axis y label/.style={at={(rel axis cs:0,0.5)}, anchor=center, font=\lbl, text=txt},
  },
  trace/.style={
    panel,
    xmin=1368, xmax=6893,
    xtick={2000,3000,4000,5000,6000},
    xticklabels={2000,3000,4000,5000,6000},
    xlabel={iteration},
    legend cell align=left,
    legend image code/.code={\draw[##1, line width=1.3bp] (0bp,5bp) -- (19bp,5bp);},
    legend style={draw=none, fill=none, anchor=north west, font=\lbl, text=txt,
      inner sep=0pt, row sep=9bp,
      nodes={inner sep=0pt, text height=14bp, text depth=3bp},
      /tikz/every odd column/.append style={column sep=5bp}},
  },
  dens/.style={panel, yticklabels={}, xlabel={density}},
  tline/.style={line width=1.5bp, line join=round},
  dfill/.style={draw=#1, draw opacity=0.55, line width=0.8bp, fill=#1, fill opacity=0.5},
}

\begin{document}
\begin{tikzpicture}
\useasboundingbox (0,0) rectangle (552bp,-1270bp);

% ===================== c =====================
\begin{axis}[trace, at={(69bp,-5bp)}, width=371bp, height=342bp,
  ymin=0.2444, ymax=0.799, ytick={0.3,0.4,0.5,0.6,0.7},
  yticklabels={0.3,0.4,0.5,0.6,0.7},
  xticklabel style={yshift=-16bp},
  every axis x label/.append style={yshift=-45bp},
  every axis y label/.append style={xshift=-46bp, rotate=90},
  ylabel={c []},
  legend style={at={(0.7305,0.944)}},
  legend image code/.code={\draw[#1, line width=1.3bp, draw opacity=0.55] (0bp,5bp) -- (19bp,5bp);}]
\addplot[tline, chainA] table[x=it, y=c1] {\tracec};
\addplot[tline, chainB] table[x=it, y=c2] {\tracec};
\addplot[tline, chainC] table[x=it, y=c3] {\tracec};
\addplot[tline, chainD] table[x=it, y=c4] {\tracecD};
\legend{chain 1, chain 2, chain 3, chain 4}
\end{axis}

\begin{axis}[dens, at={(457bp,-5bp)}, width=90bp, height=342bp,
  ymin=0.2444, ymax=0.799, ytick={0.3,0.4,0.5,0.6,0.7},
  xmin=-0.394, xmax=8.46, xtick={0,2,4,6,8}, xticklabels={0,2,4,6,8},
  xticklabel style={yshift=-16bp},
  every axis x label/.append style={yshift=-45bp}]
\addplot[dfill=chainA] table[x=d, y=v] {
v d
0.27 0.00
0.30 0.02
0.32 0.06
0.34 0.15
0.35 0.24
0.36 0.40
0.37 0.68
0.38 1.12
0.39 1.80
0.40 2.75
0.41 3.95
0.42 5.20
0.43 6.45
0.44 7.50
0.45 8.05
0.46 8.25
0.47 8.05
0.48 7.50
0.49 6.80
0.50 5.95
0.51 5.10
0.52 4.30
0.53 3.55
0.54 2.82
0.55 2.20
0.56 1.66
0.57 1.22
0.58 0.86
0.60 0.42
0.62 0.20
0.65 0.07
0.70 0.02
0.77 0.00
};
\addplot[dfill=chainB] table[x=d, y=v] {
v d
0.27 0.00
0.30 0.02
0.32 0.05
0.34 0.14
0.35 0.23
0.36 0.38
0.37 0.65
0.38 1.08
0.39 1.74
0.40 2.66
0.41 3.85
0.42 5.10
0.43 6.35
0.44 7.42
0.45 8.05
0.46 8.35
0.47 8.20
0.48 7.68
0.49 6.98
0.50 6.12
0.51 5.28
0.52 4.45
0.53 3.70
0.54 2.95
0.55 2.30
0.56 1.72
0.57 1.25
0.58 0.88
0.60 0.43
0.62 0.20
0.65 0.07
0.70 0.02
0.76 0.00
};
\addplot[dfill=chainC] table[x=d, y=v] {
v d
0.28 0.00
0.30 0.02
0.32 0.07
0.34 0.17
0.35 0.26
0.36 0.43
0.37 0.72
0.38 1.18
0.39 1.88
0.40 2.85
0.41 4.08
0.42 5.40
0.43 6.60
0.44 7.58
0.45 8.10
0.46 8.20
0.47 7.98
0.48 7.42
0.49 6.72
0.50 5.88
0.51 5.05
0.52 4.25
0.53 3.50
0.54 2.78
0.55 2.16
0.56 1.62
0.57 1.18
0.58 0.84
0.60 0.41
0.62 0.19
0.65 0.07
0.70 0.02
0.77 0.00
};
\addplot[dfill=chainD] table[x=d, y=v] {
v d
0.28 0.00
0.30 0.02
0.32 0.06
0.34 0.14
0.35 0.23
0.36 0.39
0.37 0.66
0.38 1.10
0.39 1.76
0.40 2.70
0.41 3.90
0.42 5.15
0.43 6.40
0.44 7.45
0.45 8.05
0.46 8.30
0.47 8.12
0.48 7.58
0.49 6.90
0.50 6.08
0.51 5.20
0.52 4.32
0.53 3.52
0.54 2.80
0.55 2.18
0.56 1.64
0.57 1.20
0.58 0.85
0.60 0.42
0.62 0.20
0.65 0.07
0.70 0.02
0.76 0.00
};
\end{axis}

% ===================== a0 =====================
\begin{axis}[trace, at={(83.3bp,-436.7bp)}, width=356.7bp, height=341.6bp,
  ymin=-0.643, ymax=1.686, ytick={-0.5,0,0.5,1,1.5},
  yticklabels={−0.5,0.0,0.5,1.0,1.5},
  xticklabel style={yshift=-18bp},
  every axis x label/.append style={yshift=-47bp},
  every axis y label/.append style={xshift=-60.3bp, rotate=90},
  ylabel={a\textsubscript{0} [cm]},
  legend style={at={(0.728,0.939)}}]
\addplot[tline, chainA] table[x=it, y=c1] {\tracea};
\addplot[tline, chainB] table[x=it, y=c2] {\tracea};
\addplot[tline, chainC] table[x=it, y=c3] {\tracea};
\addplot[tline, chainD] table[x=it, y=c4] {\traceaD};
\legend{chain 1, chain 2, chain 3, chain 4}
\end{axis}

\begin{axis}[dens, at={(460.7bp,-436.7bp)}, width=91.3bp, height=341.6bp,
  ymin=-0.643, ymax=1.686, ytick={-0.5,0,0.5,1,1.5},
  xmin=-0.088, xmax=2.356, xtick={0,0.5,1,1.5,2},
  xticklabels={0.0,0.5,1.0,1.5,2.0},
  xticklabel style={yshift=-18bp},
  every axis x label/.append style={yshift=-47bp}]
\addplot[dfill=chainA] table[x=d, y=v] {
v d
-0.48 0.00
-0.35 0.01
-0.20 0.02
-0.10 0.03
0.00 0.05
0.05 0.08
0.10 0.12
0.15 0.19
0.20 0.27
0.25 0.35
0.30 0.44
0.35 0.56
0.40 0.73
0.45 0.94
0.50 1.18
0.55 1.35
0.60 1.55
0.65 1.85
0.70 2.08
0.73 2.15
0.76 2.12
0.80 1.92
0.85 1.50
0.90 0.98
0.95 0.60
1.00 0.30
1.05 0.14
1.10 0.06
1.20 0.02
1.35 0.01
1.50 0.00
};
\addplot[dfill=chainB] table[x=d, y=v] {
v d
-0.45 0.00
-0.35 0.01
-0.20 0.02
-0.10 0.03
0.00 0.05
0.05 0.07
0.10 0.12
0.15 0.18
0.20 0.26
0.25 0.34
0.30 0.43
0.35 0.55
0.40 0.72
0.45 0.93
0.50 1.16
0.55 1.34
0.60 1.53
0.65 1.82
0.70 2.08
0.74 2.20
0.78 2.10
0.82 1.80
0.85 1.54
0.90 1.00
0.95 0.60
1.00 0.30
1.05 0.14
1.10 0.06
1.20 0.02
1.35 0.01
1.48 0.00
};
\addplot[dfill=chainC] table[x=d, y=v] {
v d
-0.45 0.00
-0.35 0.01
-0.20 0.02
-0.10 0.03
0.00 0.05
0.05 0.08
0.10 0.12
0.15 0.19
0.20 0.27
0.25 0.35
0.30 0.44
0.35 0.56
0.40 0.72
0.45 0.92
0.50 1.15
0.55 1.33
0.60 1.53
0.65 1.84
0.70 2.15
0.735 2.24
0.77 2.18
0.80 2.00
0.85 1.58
0.90 1.02
0.95 0.60
1.00 0.30
1.05 0.14
1.10 0.06
1.20 0.02
1.40 0.01
1.60 0.00
};
\addplot[dfill=chainD] table[x=d, y=v] {
v d
-0.40 0.00
-0.30 0.01
-0.20 0.02
-0.10 0.03
0.00 0.05
0.05 0.08
0.10 0.13
0.15 0.20
0.20 0.28
0.25 0.37
0.30 0.48
0.35 0.62
0.40 0.78
0.45 0.94
0.50 1.14
0.55 1.34
0.60 1.60
0.65 1.88
0.70 2.03
0.73 1.98
0.76 1.90
0.80 1.80
0.85 1.58
0.90 1.12
0.95 0.70
1.00 0.35
1.05 0.16
1.10 0.07
1.20 0.02
1.35 0.01
1.45 0.00
};
\end{axis}

% ===================== h0 =====================
\begin{axis}[trace, at={(66.7bp,-868.3bp)}, width=371.3bp, height=343.4bp,
  ymin=10.52, ymax=13.61, ytick={11,12,13}, yticklabels={11,12,13},
  xticklabel style={yshift=-15bp},
  every axis x label/.append style={yshift=-43bp},
  every axis y label/.append style={xshift=-45bp, rotate=90},
  ylabel={h\textsubscript{0} [cm]},
  legend style={at={(0.733,0.940)}}]
\addplot[tline, chainA] table[x=it, y=c1] {\traceh};
\addplot[tline, chainB] table[x=it, y=c2] {\traceh};
\addplot[tline, chainC] table[x=it, y=c3] {\traceh};
\addplot[tline, chainD] table[x=it, y=c4] {\traceh};
\legend{chain 1, chain 2, chain 3, chain 4}
\end{axis}

\begin{axis}[dens, at={(457.3bp,-868.3bp)}, width=89.4bp, height=343.4bp,
  ymin=10.52, ymax=13.61, ytick={11,12,13},
  xmin=-0.06, xmax=1.39, xtick={0,0.5,1}, xticklabels={0.0,0.5,1.0},
  xticklabel style={yshift=-15bp},
  every axis x label/.append style={yshift=-43bp}]
\addplot[dfill=chainA] table[x=d, y=v] {
v d
11.00 0.00
11.20 0.02
11.40 0.08
11.55 0.22
11.70 0.47
11.85 0.85
12.00 1.10
12.10 1.24
12.20 1.31
12.28 1.32
12.35 1.28
12.40 1.23
12.45 1.12
12.515 0.96
12.57 0.75
12.63 0.55
12.72 0.36
12.80 0.29
12.87 0.23
12.95 0.14
13.00 0.08
13.10 0.03
13.30 0.01
13.50 0.00
};
\addplot[dfill=chainB] table[x=d, y=v] {
v d
11.00 0.00
11.20 0.01
11.29 0.04
11.44 0.15
11.555 0.36
11.676 0.69
11.826 1.06
11.976 1.28
12.095 1.36
12.20 1.30
12.30 1.15
12.40 0.90
12.50 0.65
12.60 0.42
12.70 0.26
12.85 0.11
13.00 0.04
13.20 0.01
13.35 0.00
};
\addplot[dfill=chainC] table[x=d, y=v] {
v d
10.75 0.00
11.00 0.01
11.20 0.03
11.40 0.10
11.55 0.28
11.70 0.52
11.85 0.90
12.00 1.18
12.10 1.31
12.185 1.36
12.28 1.31
12.40 1.15
12.515 0.92
12.63 0.55
12.72 0.35
12.87 0.20
13.00 0.06
13.20 0.01
13.40 0.00
};
\addplot[dfill=chainD] table[x=d, y=v] {
v d
11.00 0.00
11.20 0.03
11.40 0.13
11.55 0.33
11.676 0.58
11.85 0.92
12.00 1.14
12.15 1.23
12.28 1.14
12.40 1.00
12.52 0.75
12.63 0.45
12.72 0.30
12.87 0.15
13.00 0.06
13.20 0.02
13.50 0.00
};
\end{axis}
\end{tikzpicture}
\end{document}
